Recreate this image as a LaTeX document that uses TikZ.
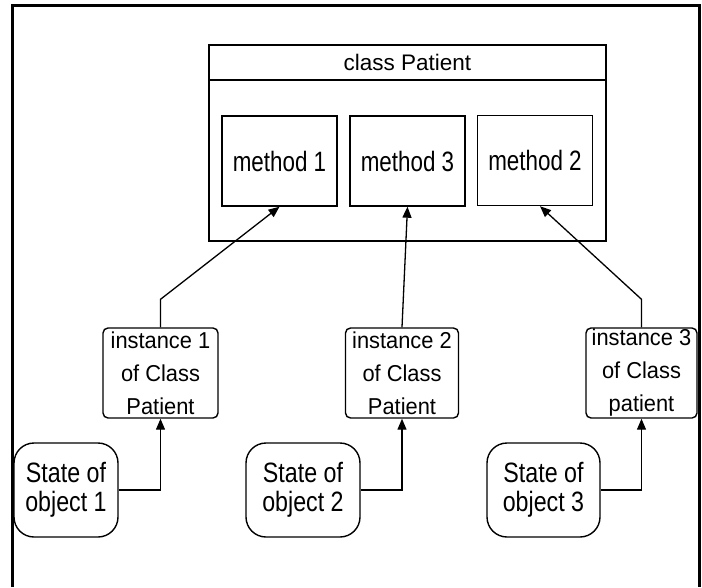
\documentclass[tikz,border=0pt]{standalone}
\usepackage{fontspec}
\setmainfont{Liberation Sans}
\newfontfamily\methfont[FakeStretch=0.8]{Liberation Sans}
\newfontfamily\statefont[FakeStretch=0.83]{Liberation Sans}
\newfontfamily\instfont[FakeStretch=0.95]{Liberation Sans}
\usetikzlibrary{arrows.meta}
\tikzset{
  box/.style={draw, line width=1.4pt, inner sep=0pt},
  methodbox/.style={box, minimum width=115pt, minimum height=90pt,
    font=\methfont\fontsize{28}{28}\selectfont},
  instbox/.style={box, rounded corners=5pt, minimum height=90pt, align=center,
    font=\instfont\fontsize{23}{33}\selectfont},
  statebox/.style={box, rounded corners=20pt, minimum height=94pt, align=center,
    font=\statefont\fontsize{28}{28.5}\selectfont},
  link/.style={line width=1.3pt, -{Triangle[length=11pt,width=9pt]}},
}
\begin{document}
\begin{tikzpicture}[x=1pt, y=-1pt]
  \useasboundingbox (0,0) rectangle (702,587);
  % outer frame, open at the bottom
  \draw[line width=3pt] (12,587) -- (12,5) -- (699,5) -- (699,587);

  % class box with its title strip
  \node[box, minimum width=397pt, minimum height=196pt] (cls) at (407.5,143) {};
  \draw[line width=1.4pt] (cls.west |- 0,80) -- (cls.east |- 0,80);
  \node[font=\fontsize{22.5}{24}\selectfont] (title) at (407.5,62.5) {class Patient};

  % methods
  \node[methodbox] (m1) at (279.5,161) {method 1};
  \node[methodbox] (m3) at (407.5,161) {method 3};
  \node[methodbox] (m2) at (535,160.5) {method 2};

  % instances
  \node[instbox, minimum width=115pt] (i1) at (160.5,373) {instance 1\\of Class\\Patient};
  \node[instbox, minimum width=113pt] (i2) at (402,373) {instance 2\\of Class\\Patient};
  \node[instbox, minimum width=111pt] (i3) at (641.5,373) {instance 3\\of Class\\patient};

  % object states
  \node[statebox, minimum width=104pt] (s1) at (66,490) {State of\\object 1};
  \node[statebox, minimum width=114pt] (s2) at (303,490) {State of\\object 2};
  \node[statebox, minimum width=113pt] (s3) at (543.5,490) {State of\\object 3};

  % states feed their instances
  \draw[link] (s1.east) -| (i1.south);
  \draw[link] (s2.east) -| (i2.south);
  \draw[link] (s3.east) -| (i3.south);

  % instances use the class methods
  \draw[link] (i1.north) -- ++(0,-28) -- (m1.south);
  \draw[link] (i2.north) -- (m3.south);
  \draw[link] (i3.north) -- ++(0,-28) -- ([xshift=5pt]m2.south);
\end{tikzpicture}
\end{document}
